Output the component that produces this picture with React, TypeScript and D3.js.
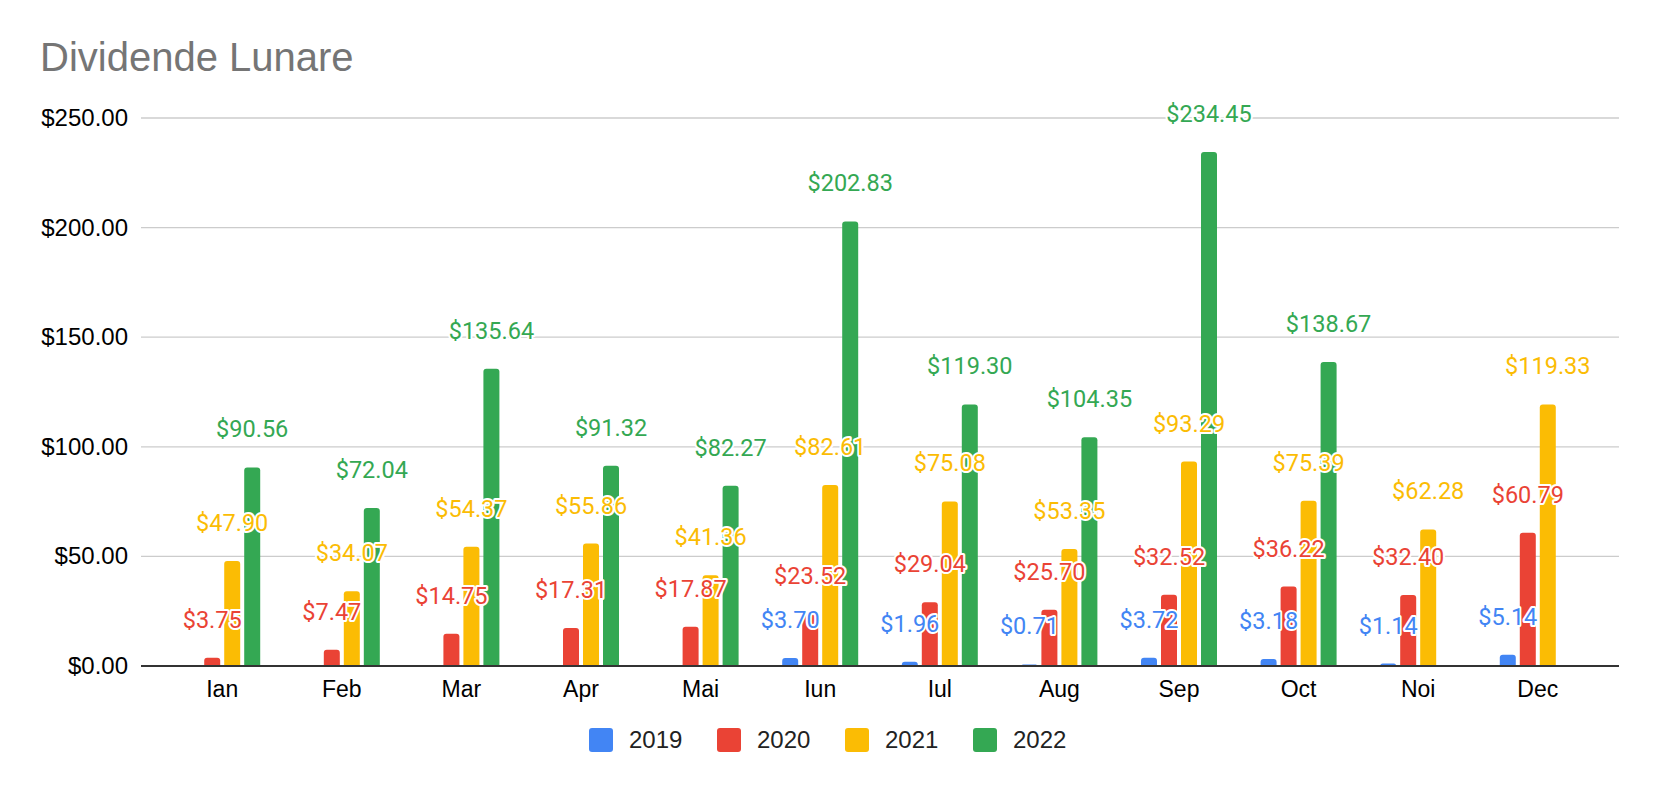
import React from "react";
import * as d3 from "d3";

const months = ["Ian", "Feb", "Mar", "Apr", "Mai", "Iun", "Iul", "Aug", "Sep", "Oct", "Noi", "Dec"];
const seriesNames = ["2019", "2020", "2021", "2022"];
const v2019: (number | null)[] = [null, null, null, null, null, 3.7, 1.96, 0.71, 3.72, 3.18, 1.14, 5.14];
const v2020: (number | null)[] = [3.75, 7.47, 14.75, 17.31, 17.87, 23.52, 29.04, 25.7, 32.52, 36.22, 32.4, 60.79];
const v2021: (number | null)[] = [47.9, 34.07, 54.37, 55.86, 41.36, 82.61, 75.08, 53.35, 93.29, 75.39, 62.28, 119.33];
const v2022: (number | null)[] = [90.56, 72.04, 135.64, 91.32, 82.27, 202.83, 119.3, 104.35, 234.45, 138.67, null, null];
const yTicks = [0, 50, 100, 150, 200, 250];
const colors = ["#4285F4", "#EA4335", "#FBBC04", "#34A853"];

const W = 1658;
const H = 792;
const plotLeft = 141;
const plotRight = 1619;
const yBase = 666;
const yTopPx = 118;

const fmt = (v: number) => "$" + d3.format(",.2f")(v);

function topRoundedBar(x: number, y: number, w: number, h: number, r: number) {
  const rr = Math.min(r, h, w / 2);
  const p = d3.path();
  p.moveTo(x, y + h);
  p.lineTo(x, y + rr);
  p.quadraticCurveTo(x, y, x + rr, y);
  p.lineTo(x + w - rr, y);
  p.quadraticCurveTo(x + w, y, x + w, y + rr);
  p.lineTo(x + w, y + h);
  p.closePath();
  return p.toString();
}

export default function App() {
  const allSeries = [v2019, v2020, v2021, v2022];
  const x = d3.scaleBand<string>().domain(months).range([plotLeft, plotRight]).paddingInner(0).paddingOuter(0.179);
  const inner = d3.scaleBand<string>().domain(seriesNames).range([-40, 40]).paddingInner(0.2).paddingOuter(0.1);
  const y = d3.scaleLinear().domain([0, 250]).range([yBase, yTopPx]);
  const labelFont = "Roboto, 'Noto Sans', sans-serif";
  const axisFont = "'Liberation Sans', Arial, sans-serif";

  const bars: React.ReactNode[] = [];
  const labels: React.ReactNode[] = [];
  allSeries.forEach((vals, si) => {
    vals.forEach((v, mi) => {
      if (v == null) return;
      const cx = (x(months[mi]) as number) + x.bandwidth() / 2;
      const bx = cx + (inner(seriesNames[si]) as number);
      const bw = inner.bandwidth();
      const top = y(v);
      bars.push(
        <path key={`b-${si}-${mi}`} d={topRoundedBar(bx, top, bw, yBase - top, 3)} fill={colors[si]} />
      );
      labels.push(
        <text
          key={`l-${si}-${mi}`}
          x={bx + bw / 2}
          y={top - 30}
          textAnchor="middle"
          fontFamily={labelFont}
          fontSize={23.5}
          fill={colors[si]}
          stroke="#ffffff"
          strokeWidth={4}
          strokeLinejoin="round"
          paintOrder="stroke"
        >
          {fmt(v)}
        </text>
      );
    });
  });

  const legendStart = 589;
  const legendStep = 128;

  return (
    <svg width={W} height={H} style={{ position: "absolute", left: 0, top: 0, background: "#fff" }}>
      <rect x={0} y={0} width={W} height={H} fill="#fff" />
      <text x={40} y={71} fontFamily={axisFont} fontSize={40} fill="#757575">
        Dividende Lunare
      </text>
      {yTicks.map((t) => (
        <g key={`t-${t}`}>
          {t !== 0 && (
            <line x1={plotLeft} x2={plotRight} y1={y(t)} y2={y(t)} stroke="#cccccc" strokeWidth={1.3} />
          )}
          <text x={128} y={y(t) + 8} textAnchor="end" fontFamily={axisFont} fontSize={24} fill="#000">
            {fmt(t)}
          </text>
        </g>
      ))}
      {bars}
      <line x1={plotLeft} x2={plotRight} y1={yBase} y2={yBase} stroke="#333333" strokeWidth={2} />
      {months.map((m) => (
        <text
          key={`m-${m}`}
          x={(x(m) as number) + x.bandwidth() / 2}
          y={697}
          textAnchor="middle"
          fontFamily={axisFont}
          fontSize={23}
          fill="#000"
        >
          {m}
        </text>
      ))}
      {labels}
      {seriesNames.map((s, i) => (
        <g key={`lg-${s}`} transform={`translate(${legendStart + i * legendStep},728)`}>
          <rect x={0} y={0} width={24} height={24} rx={3} fill={colors[i]} />
          <text x={40} y={20} fontFamily={axisFont} fontSize={24} fill="#222">
            {s}
          </text>
        </g>
      ))}
    </svg>
  );
}
